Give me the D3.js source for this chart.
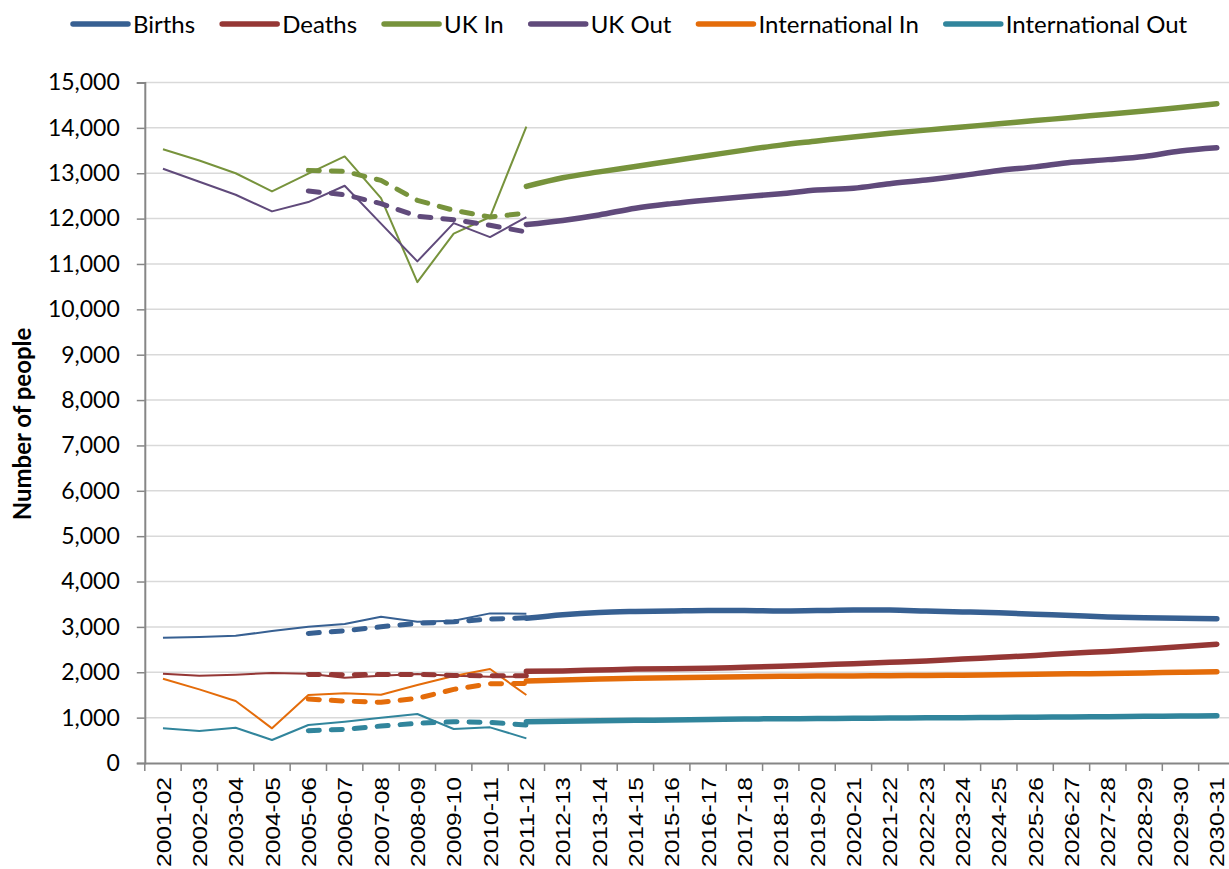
<!DOCTYPE html>
<html>
<head>
<meta charset="utf-8">
<script src="https://cdn.jsdelivr.net/npm/d3@7"></script>
<style>
  html, body { margin: 0; padding: 0; background: #fff; }
  svg { display: block; }
</style>
</head>
<body>
<svg id="chart" width="1229" height="869"></svg>
<script>
// ---------- DATA ----------
const categories = ["2001-02","2002-03","2003-04","2004-05","2005-06","2006-07","2007-08","2008-09","2009-10","2010-11",
  "2011-12","2012-13","2013-14","2014-15","2015-16","2016-17","2017-18","2018-19","2019-20","2020-21",
  "2021-22","2022-23","2023-24","2024-25","2025-26","2026-27","2027-28","2028-29","2029-30","2030-31"];
const histYears = categories.slice(0, 11);   // 2001-02 .. 2011-12 (thin lines)
const dashYears = categories.slice(4, 11);   // 2005-06 .. 2011-12 (dashed lines)
const projYears = categories.slice(10);      // 2011-12 .. 2030-31 (thick lines)

const seriesNames = ["Births", "Deaths", "UK In", "UK Out", "International In", "International Out"];
const seriesColors = ["#376092", "#953735", "#77933C", "#604A7B", "#E46C0A", "#31859C"];

const birthsHist = [2760, 2780, 2805, 2908, 3003, 3062, 3224, 3113, 3135, 3298, 3290];
const birthsDash = [2857, 2915, 3003, 3078, 3113, 3172, 3201];
const birthsProj = [3190, 3270, 3320, 3340, 3350, 3360, 3360, 3350, 3360, 3370, 3370, 3350, 3330, 3310, 3280, 3250, 3220, 3200, 3190, 3180];

const deathsHist = [1968, 1924, 1946, 1983, 1968, 1880, 1924, 1961, 1924, 1902, 1902];
const deathsDash = [1953, 1946, 1950, 1953, 1931, 1924, 1924];
const deathsProj = [2020, 2030, 2050, 2070, 2080, 2090, 2110, 2130, 2160, 2190, 2220, 2250, 2290, 2330, 2370, 2420, 2460, 2510, 2560, 2620];

const ukInHist = [13530, 13280, 13000, 12600, 12990, 13370, 12450, 10600, 11670, 12035, 14030];
const ukInDash = [13063, 13041, 12843, 12403, 12183, 12035, 12120];
const ukInProj = [12710, 12900, 13030, 13150, 13270, 13390, 13510, 13620, 13710, 13800, 13880, 13950, 14020, 14090, 14160, 14230, 14300, 14370, 14450, 14530];

const ukOutHist = [13100, 12812, 12526, 12159, 12364, 12724, 11888, 11057, 11901, 11593, 12035];
const ukOutDash = [12607, 12528, 12330, 12050, 11977, 11852, 11705];
const ukOutProj = [11870, 11960, 12080, 12230, 12330, 12410, 12480, 12550, 12630, 12670, 12770, 12850, 12950, 13060, 13140, 13240, 13300, 13370, 13490, 13560];

const intInHist = [1857, 1623, 1366, 764, 1498, 1535, 1505, 1718, 1917, 2071, 1498];
const intInDash = [1410, 1366, 1337, 1425, 1623, 1747, 1755];
const intInProj = [1810, 1830, 1850, 1870, 1880, 1890, 1900, 1910, 1915, 1920, 1925, 1930, 1935, 1945, 1955, 1965, 1975, 1985, 2000, 2010];

const intOutHist = [764, 705, 778, 507, 837, 910, 998, 1079, 749, 786, 543];
const intOutDash = [712, 742, 815, 874, 910, 896, 837];
const intOutProj = [910, 920, 930, 940, 950, 960, 970, 975, 980, 985, 990, 995, 1000, 1005, 1010, 1015, 1020, 1028, 1035, 1042];

const yTicks = [0,1000,2000,3000,4000,5000,6000,7000,8000,9000,10000,11000,12000,13000,14000,15000];
const yAxisTitle = "Number of people";

// ---------- BUILD ----------
const hist = [birthsHist, deathsHist, ukInHist, ukOutHist, intInHist, intOutHist];
const dash = [birthsDash, deathsDash, ukInDash, ukOutDash, intInDash, intOutDash];
const proj = [birthsProj, deathsProj, ukInProj, ukOutProj, intInProj, intOutProj];

const svg = d3.select("#chart");
const plotLeft = 144.8, plotRight = 1235, plotTop = 82.5, plotBottom = 763;

const x = d3.scaleBand().domain(categories).range([plotLeft, plotRight]).padding(0);
const xc = c => x(c) + x.bandwidth() / 2;
const y = d3.scaleLinear().domain([0, 15000]).range([plotBottom, plotTop]);

const textFont = "Lato, 'Open Sans', sans-serif";

// gridlines
svg.append("g").selectAll("line").data(yTicks.filter(d => d > 0)).join("line")
  .attr("x1", plotLeft).attr("x2", plotRight)
  .attr("y1", d => y(d)).attr("y2", d => y(d))
  .attr("stroke", "#D9D9D9").attr("stroke-width", 1.5);

// y axis
const yAxis = svg.append("g").attr("transform", `translate(${plotLeft},0)`)
  .call(d3.axisLeft(y).tickValues(yTicks).tickFormat(d3.format(",")).tickSize(8).tickPadding(17));
yAxis.select(".domain").attr("stroke", "#868686").attr("stroke-width", 2);
yAxis.selectAll(".tick line").attr("stroke", "#868686").attr("stroke-width", 1.5);
yAxis.selectAll(".tick text").attr("font-family", textFont).attr("font-size", 23).attr("fill", "#000");

// x axis
const xAxis = svg.append("g").attr("transform", `translate(0,${plotBottom})`)
  .call(d3.axisBottom(x).tickSize(0).tickFormat(""));
xAxis.select(".domain").attr("stroke", "#868686").attr("stroke-width", 2);
const boundaries = categories.map(c => x(c)).concat([x(categories[categories.length - 1]) + x.bandwidth()]);
xAxis.append("g").selectAll("line").data(boundaries).join("line")
  .attr("x1", d => d).attr("x2", d => d).attr("y1", 0).attr("y2", 8)
  .attr("stroke", "#868686").attr("stroke-width", 1.5);
svg.append("g").selectAll("text").data(categories).join("text")
  .attr("transform", d => `translate(${xc(d)},${plotBottom + 14}) rotate(-90)`)
  .attr("text-anchor", "end").attr("dy", "0.36em")
  .attr("font-family", "'Liberation Sans', Arial, sans-serif").attr("font-size", 21)
  .attr("textLength", 90).attr("lengthAdjust", "spacingAndGlyphs")
  .attr("fill", "#000")
  .text(d => d);

// y axis title
svg.append("text")
  .attr("transform", `translate(22,424) rotate(-90)`)
  .attr("text-anchor", "middle").attr("dy", "0.36em")
  .attr("font-family", textFont).attr("font-weight", "bold").attr("font-size", 24)
  .attr("fill", "#000").text(yAxisTitle);

// lines
const line = d3.line().x(d => xc(d[0])).y(d => y(d[1]));
const gLines = svg.append("g");
seriesNames.forEach((name, i) => {
  gLines.append("path").datum(histYears.map((c, k) => [c, hist[i][k]]))
    .attr("d", line).attr("fill", "none").attr("stroke", seriesColors[i])
    .attr("stroke-width", 2).attr("stroke-linejoin", "round");
});
seriesNames.forEach((name, i) => {
  gLines.append("path").datum(dashYears.map((c, k) => [c, dash[i][k]]))
    .attr("d", line).attr("fill", "none").attr("stroke", seriesColors[i])
    .attr("stroke-width", 5).attr("stroke-dasharray", "11,12").attr("stroke-linecap", "round")
    .attr("stroke-linejoin", "round");
});
const smooth = d3.line().x(d => xc(d[0])).y(d => y(d[1])).curve(d3.curveMonotoneX);
seriesNames.forEach((name, i) => {
  gLines.append("path").datum(projYears.map((c, k) => [c, proj[i][k]]))
    .attr("d", smooth).attr("fill", "none").attr("stroke", seriesColors[i])
    .attr("stroke-width", 5.5).attr("stroke-linecap", "round").attr("stroke-linejoin", "round");
});

// legend
const legend = svg.append("g");
let lx = 73;
seriesNames.forEach((name, i) => {
  legend.append("line").attr("x1", lx).attr("x2", lx + 55).attr("y1", 24).attr("y2", 24)
    .attr("stroke", seriesColors[i]).attr("stroke-width", 5.5).attr("stroke-linecap", "round");
  const t = legend.append("text").attr("x", lx + 60).attr("y", 24).attr("dy", "0.36em")
    .attr("font-family", textFont).attr("font-size", 24).attr("fill", "#000").text(name);
  lx += 60 + t.node().getComputedTextLength() + 27;
});
</script>
</body>
</html>
